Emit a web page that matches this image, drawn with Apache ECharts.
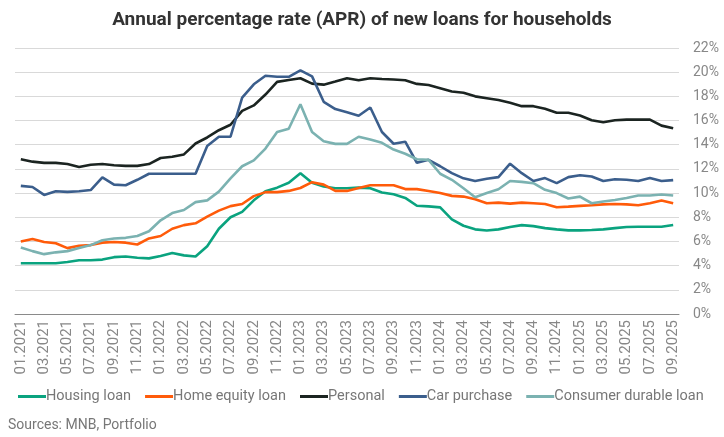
<!DOCTYPE html>
<html>
<head>
<meta charset="utf-8">
<script src="https://cdn.jsdelivr.net/npm/echarts@6/dist/echarts.min.js"></script>
<style>
  html, body { margin: 0; padding: 0; background: #fff; }
  #chart { width: 724px; height: 437px; }
</style>
</head>
<body>
<div id="chart"></div>
<script>
// months 01.2021 .. 09.2025
const months = [];
for (let y = 2021; y <= 2025; y++) {
  for (let m = 1; m <= 12; m++) {
    if (y === 2025 && m > 9) break;
    months.push((m < 10 ? '0' + m : '' + m) + '.' + y);
  }
}

const housingLoan = [
  4.2, 4.2, 4.2, 4.2, 4.3, 4.45, 4.45, 4.5, 4.7, 4.75, 4.65, 4.6,
  4.8, 5.05, 4.85, 4.75, 5.6, 7.05, 8.0, 8.45, 9.4, 10.15, 10.45, 10.85,
  11.65, 10.85, 10.55, 10.4, 10.4, 10.45, 10.4, 10.05, 9.9, 9.6, 8.95, 8.9,
  8.82, 7.83, 7.3, 7.0, 6.9, 7.0, 7.2, 7.35, 7.27, 7.1, 7.0, 6.92,
  6.92, 6.95, 7.0, 7.1, 7.2, 7.22, 7.22, 7.22, 7.36
];
const homeEquityLoan = [
  6.0, 6.2, 5.95, 5.85, 5.45, 5.65, 5.7, 5.9, 5.95, 5.9, 5.75, 6.25,
  6.45, 7.05, 7.35, 7.5, 8.05, 8.55, 8.92, 9.1, 9.75, 10.08, 10.08, 10.18,
  10.42, 10.9, 10.7, 10.18, 10.18, 10.42, 10.65, 10.65, 10.65, 10.33, 10.33, 10.18,
  10.0, 9.77, 9.71, 9.49, 9.16, 9.21, 9.13, 9.21, 9.16, 9.1, 8.83, 8.88,
  8.94, 9.0, 9.07, 9.1, 9.07, 9.0, 9.16, 9.38, 9.16
];
const personal = [
  12.8, 12.6, 12.5, 12.5, 12.4, 12.15, 12.35, 12.4, 12.3, 12.25, 12.25, 12.4,
  12.9, 13.0, 13.2, 14.1, 14.6, 15.2, 15.65, 16.8, 17.25, 18.15, 19.2, 19.35,
  19.5, 19.05, 18.97, 19.22, 19.5, 19.33, 19.5, 19.44, 19.39, 19.33, 19.03, 18.94,
  18.67, 18.4, 18.3, 18.0, 17.85, 17.7, 17.47, 17.19, 17.19, 16.97, 16.64, 16.64,
  16.42, 16.03, 15.86, 16.03, 16.08, 16.08, 16.08, 15.58, 15.36
];
const carPurchase = [
  10.6, 10.5, 9.85, 10.15, 10.1, 10.15, 10.25, 11.3, 10.7, 10.65, 11.1, 11.6,
  11.6, 11.6, 11.6, 11.6, 13.9, 14.66, 14.66, 17.9, 19.0, 19.7, 19.62, 19.62,
  20.15, 19.65, 17.55, 16.95, 16.68, 16.4, 17.08, 15.05, 14.08, 14.25, 12.5, 12.75,
  12.22, 11.65, 11.22, 11.0, 11.18, 11.32, 12.43, 11.65, 11.0, 11.24, 10.82, 11.32,
  11.48, 11.37, 11.0, 11.15, 11.1, 11.0, 11.24, 11.0, 11.07
];
const consumerDurable = [
  5.5, 5.2, 4.95, 5.1, 5.2, 5.45, 5.7, 6.1, 6.25, 6.3, 6.45, 6.85,
  7.75, 8.35, 8.6, 9.25, 9.4, 10.12, 11.22, 12.22, 12.7, 13.68, 15.05, 15.32,
  17.35, 15.05, 14.28, 14.07, 14.07, 14.66, 14.43, 14.16, 13.6, 13.25, 12.8, 12.75,
  11.6, 11.1, 10.4, 9.66, 10.0, 10.32, 11.0, 10.93, 10.82, 10.27, 10.0, 9.55,
  9.71, 9.16, 9.3, 9.43, 9.6, 9.8, 9.8, 9.88, 9.8
];

const seriesNames = ['Housing loan', 'Home equity loan', 'Personal', 'Car purchase', 'Consumer durable loan'];
const seriesData = [housingLoan, homeEquityLoan, personal, carPurchase, consumerDurable];
const colors = ['#0aa37f', '#ff5b0a', '#1b2421', '#3b5e8c', '#7bb2b1'];

const chart = echarts.init(document.getElementById('chart'));

const option = {
  backgroundColor: '#fff',
  animation: false,
  color: colors,
  textStyle: { fontFamily: 'Roboto' },
  title: {
    text: 'Annual percentage rate (APR) of new loans for households',
    left: 'center',
    top: 6,
    textStyle: { fontSize: 19, fontWeight: 'bold', color: '#333', fontFamily: 'Roboto' }
  },
  grid: { left: 15, right: 45, top: 48, bottom: 123 },
  legend: {
    data: seriesNames,
    left: 18,
    top: 389,
    width: 706,
    padding: 0,
    icon: 'rect',
    itemWidth: 28,
    itemHeight: 3,
    itemGap: 14,
    textStyle: { fontSize: 14.5, color: '#777', padding: [0, 0, 0, -5] }
  },
  graphic: [{
    type: 'text',
    left: 8,
    top: 418,
    style: { text: 'Sources: MNB, Portfolio', fontSize: 14, fill: '#777', fontFamily: 'Roboto' }
  }],
  xAxis: {
    type: 'category',
    data: months,
    boundaryGap: true,
    axisLine: { lineStyle: { color: '#8a8a8a', width: 1 } },
    axisTick: { show: false },
    axisLabel: {
      interval: 1,
      rotate: 90,
      color: '#888',
      fontSize: 15,
      margin: 6
    }
  },
  yAxis: {
    type: 'value',
    position: 'right',
    min: 0,
    max: 22,
    interval: 2,
    axisLine: { show: false },
    axisTick: { show: false },
    splitLine: { lineStyle: { color: '#d9d9d9', width: 1 } },
    axisLabel: {
      formatter: '{value}%',
      color: '#888',
      fontSize: 14,
      margin: 14
    }
  },
  series: seriesNames.map((name, i) => ({
    name: name,
    type: 'line',
    data: seriesData[i],
    symbol: 'none',
    lineStyle: { width: 2.6, color: colors[i] },
    itemStyle: { color: colors[i] }
  }))
};

chart.setOption(option);
</script>
</body>
</html>
